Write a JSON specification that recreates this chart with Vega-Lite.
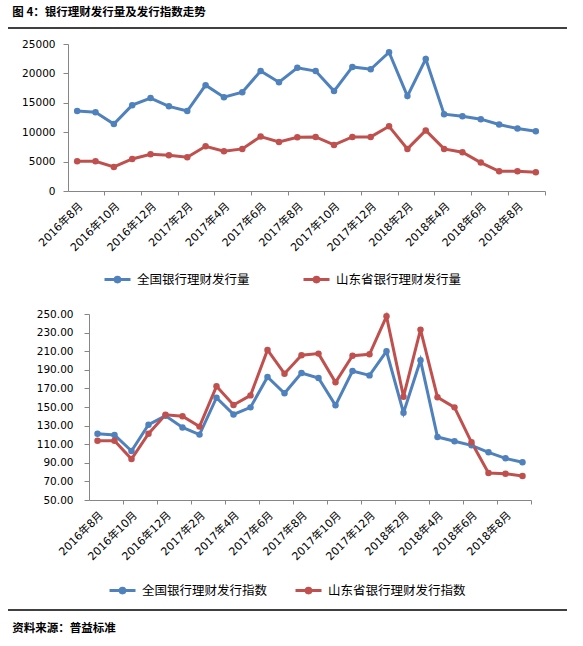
{
  "$schema": "https://vega.github.io/schema/vega-lite/v6.json",
  "padding": {"left": 7, "top": 6, "right": 0, "bottom": 0},
  "background": "white",
  "config": {
    "view": {"stroke": null},
    "axis": {
      "domainColor": "#868686",
      "tickColor": "#868686",
      "labelColor": "black",
      "labelFont": "DejaVu Sans, Noto Sans CJK SC",
      "grid": false,
      "title": null
    }
  },
  "datasets": {
    "volume": [
      {"month": "2016年8月", "series": "全国银行理财发行量", "value": 13600},
      {"month": "2016年9月", "series": "全国银行理财发行量", "value": 13400},
      {"month": "2016年10月", "series": "全国银行理财发行量", "value": 11400},
      {"month": "2016年11月", "series": "全国银行理财发行量", "value": 14600},
      {"month": "2016年12月", "series": "全国银行理财发行量", "value": 15800},
      {"month": "2017年1月", "series": "全国银行理财发行量", "value": 14400},
      {"month": "2017年2月", "series": "全国银行理财发行量", "value": 13600},
      {"month": "2017年3月", "series": "全国银行理财发行量", "value": 18000},
      {"month": "2017年4月", "series": "全国银行理财发行量", "value": 15950},
      {"month": "2017年5月", "series": "全国银行理财发行量", "value": 16800},
      {"month": "2017年6月", "series": "全国银行理财发行量", "value": 20400},
      {"month": "2017年7月", "series": "全国银行理财发行量", "value": 18500},
      {"month": "2017年8月", "series": "全国银行理财发行量", "value": 20950},
      {"month": "2017年9月", "series": "全国银行理财发行量", "value": 20400},
      {"month": "2017年10月", "series": "全国银行理财发行量", "value": 17000},
      {"month": "2017年11月", "series": "全国银行理财发行量", "value": 21100},
      {"month": "2017年12月", "series": "全国银行理财发行量", "value": 20700},
      {"month": "2018年1月", "series": "全国银行理财发行量", "value": 23600},
      {"month": "2018年2月", "series": "全国银行理财发行量", "value": 16140},
      {"month": "2018年3月", "series": "全国银行理财发行量", "value": 22450},
      {"month": "2018年4月", "series": "全国银行理财发行量", "value": 13070},
      {"month": "2018年5月", "series": "全国银行理财发行量", "value": 12730},
      {"month": "2018年6月", "series": "全国银行理财发行量", "value": 12220},
      {"month": "2018年7月", "series": "全国银行理财发行量", "value": 11300},
      {"month": "2018年8月", "series": "全国银行理财发行量", "value": 10620},
      {"month": "2018年9月", "series": "全国银行理财发行量", "value": 10170},
      {"month": "2016年8月", "series": "山东省银行理财发行量", "value": 5050},
      {"month": "2016年9月", "series": "山东省银行理财发行量", "value": 5050},
      {"month": "2016年10月", "series": "山东省银行理财发行量", "value": 4090},
      {"month": "2016年11月", "series": "山东省银行理财发行量", "value": 5450},
      {"month": "2016年12月", "series": "山东省银行理财发行量", "value": 6250},
      {"month": "2017年1月", "series": "山东省银行理财发行量", "value": 6080},
      {"month": "2017年2月", "series": "山东省银行理财发行量", "value": 5740},
      {"month": "2017年3月", "series": "山东省银行理财发行量", "value": 7610},
      {"month": "2017年4月", "series": "山东省银行理财发行量", "value": 6760},
      {"month": "2017年5月", "series": "山东省银行理财发行量", "value": 7160},
      {"month": "2017年6月", "series": "山东省银行理财发行量", "value": 9260},
      {"month": "2017年7月", "series": "山东省银行理财发行量", "value": 8350},
      {"month": "2017年8月", "series": "山东省银行理财发行量", "value": 9150},
      {"month": "2017年9月", "series": "山东省银行理财发行量", "value": 9200},
      {"month": "2017年10月", "series": "山东省银行理财发行量", "value": 7840},
      {"month": "2017年11月", "series": "山东省银行理财发行量", "value": 9200},
      {"month": "2017年12月", "series": "山东省银行理财发行量", "value": 9200},
      {"month": "2018年1月", "series": "山东省银行理财发行量", "value": 11000},
      {"month": "2018年2月", "series": "山东省银行理财发行量", "value": 7160},
      {"month": "2018年3月", "series": "山东省银行理财发行量", "value": 10300},
      {"month": "2018年4月", "series": "山东省银行理财发行量", "value": 7160},
      {"month": "2018年5月", "series": "山东省银行理财发行量", "value": 6590},
      {"month": "2018年6月", "series": "山东省银行理财发行量", "value": 4830},
      {"month": "2018年7月", "series": "山东省银行理财发行量", "value": 3350},
      {"month": "2018年8月", "series": "山东省银行理财发行量", "value": 3350},
      {"month": "2018年9月", "series": "山东省银行理财发行量", "value": 3190}
    ],
    "index": [
      {"month": "2016年8月", "series": "全国银行理财发行指数", "value": 121.3},
      {"month": "2016年9月", "series": "全国银行理财发行指数", "value": 119.9},
      {"month": "2016年10月", "series": "全国银行理财发行指数", "value": 102.7},
      {"month": "2016年11月", "series": "全国银行理财发行指数", "value": 131.0},
      {"month": "2016年12月", "series": "全国银行理财发行指数", "value": 140.5},
      {"month": "2017年1月", "series": "全国银行理财发行指数", "value": 128.0},
      {"month": "2017年2月", "series": "全国银行理财发行指数", "value": 120.3},
      {"month": "2017年3月", "series": "全国银行理财发行指数", "value": 160.0},
      {"month": "2017年4月", "series": "全国银行理财发行指数", "value": 142.0},
      {"month": "2017年5月", "series": "全国银行理财发行指数", "value": 149.6},
      {"month": "2017年6月", "series": "全国银行理财发行指数", "value": 182.3},
      {"month": "2017年7月", "series": "全国银行理财发行指数", "value": 164.7},
      {"month": "2017年8月", "series": "全国银行理财发行指数", "value": 186.6},
      {"month": "2017年9月", "series": "全国银行理财发行指数", "value": 181.2},
      {"month": "2017年10月", "series": "全国银行理财发行指数", "value": 151.8},
      {"month": "2017年11月", "series": "全国银行理财发行指数", "value": 188.7},
      {"month": "2017年12月", "series": "全国银行理财发行指数", "value": 184.0},
      {"month": "2018年1月", "series": "全国银行理财发行指数", "value": 209.9},
      {"month": "2018年2月", "series": "全国银行理财发行指数", "value": 143.9},
      {"month": "2018年3月", "series": "全国银行理财发行指数", "value": 200.2},
      {"month": "2018年4月", "series": "全国银行理财发行指数", "value": 117.7},
      {"month": "2018年5月", "series": "全国银行理财发行指数", "value": 113.1},
      {"month": "2018年6月", "series": "全国银行理财发行指数", "value": 108.8},
      {"month": "2018年7月", "series": "全国银行理财发行指数", "value": 101.3},
      {"month": "2018年8月", "series": "全国银行理财发行指数", "value": 94.8},
      {"month": "2018年9月", "series": "全国银行理财发行指数", "value": 90.5},
      {"month": "2016年8月", "series": "山东省银行理财发行指数", "value": 113.8},
      {"month": "2016年9月", "series": "山东省银行理财发行指数", "value": 113.8},
      {"month": "2016年10月", "series": "山东省银行理财发行指数", "value": 94.1},
      {"month": "2016年11月", "series": "山东省银行理财发行指数", "value": 121.3},
      {"month": "2016年12月", "series": "山东省银行理财发行指数", "value": 141.7},
      {"month": "2017年1月", "series": "山东省银行理财发行指数", "value": 140.0},
      {"month": "2017年2月", "series": "山东省银行理财发行指数", "value": 128.9},
      {"month": "2017年3月", "series": "山东省银行理财发行指数", "value": 172.2},
      {"month": "2017年4月", "series": "山东省银行理财发行指数", "value": 152.2},
      {"month": "2017年5月", "series": "山东省银行理财发行指数", "value": 162.5},
      {"month": "2017年6月", "series": "山东省银行理财发行指数", "value": 211.3},
      {"month": "2017年7月", "series": "山东省银行理财发行指数", "value": 185.8},
      {"month": "2017年8月", "series": "山东省银行理财发行指数", "value": 205.6},
      {"month": "2017年9月", "series": "山东省银行理财发行指数", "value": 207.4},
      {"month": "2017年10月", "series": "山东省银行理财发行指数", "value": 176.5},
      {"month": "2017年11月", "series": "山东省银行理财发行指数", "value": 205.2},
      {"month": "2017年12月", "series": "山东省银行理财发行指数", "value": 206.6},
      {"month": "2018年1月", "series": "山东省银行理财发行指数", "value": 247.5},
      {"month": "2018年2月", "series": "山东省银行理财发行指数", "value": 161.1},
      {"month": "2018年3月", "series": "山东省银行理财发行指数", "value": 233.2},
      {"month": "2018年4月", "series": "山东省银行理财发行指数", "value": 160.4},
      {"month": "2018年5月", "series": "山东省银行理财发行指数", "value": 149.6},
      {"month": "2018年6月", "series": "山东省银行理财发行指数", "value": 112.0},
      {"month": "2018年7月", "series": "山东省银行理财发行指数", "value": 79.0},
      {"month": "2018年8月", "series": "山东省银行理财发行指数", "value": 78.3},
      {"month": "2018年9月", "series": "山东省银行理财发行指数", "value": 75.8}
    ]
  },
  "spacing": 0,
  "resolve": {
    "scale": {"x": "independent", "y": "independent", "color": "independent"},
    "legend": {"color": "independent"}
  },
  "vconcat": [
    {
      "width": 559,
      "height": 11,
      "data": {"values": [{}]},
      "mark": {"type": "rule", "color": "black", "strokeWidth": 1.3},
      "encoding": {"y": {"datum": 1, "type": "quantitative", "scale": {"domain": [0, 1]}, "axis": null}},
      "title": {"text": "图 4：银行理财发行量及发行指数走势", "anchor": "start", "dx": 5, "offset": 9, "font": "Noto Sans CJK SC", "fontSize": 11.5, "fontWeight": "bold", "color": "black"}
    },
    {
      "spacing": 0,
      "resolve": {"scale": {"color": "independent"}, "legend": {"color": "independent"}},
      "hconcat": [
        {"width": 13, "height": 265, "data": {"values": []}, "mark": "point"},
        {
          "width": 477,
          "height": 147,
          "data": {"name": "volume"},
          "resolve": {"axis": {"x": "independent"}},
          "layer": [
            {
              "mark": {"type": "line", "strokeWidth": 3},
              "encoding": {
                "x": {"field": "month", "type": "ordinal", "sort": null, "bandPosition": 0.5,
                  "scale": {"type": "band", "paddingInner": 0, "paddingOuter": 0},
                  "axis": {"orient": "bottom", "values": ["2016年8月","2016年10月","2016年12月","2017年2月","2017年4月","2017年6月","2017年8月","2017年10月","2017年12月","2018年2月","2018年4月","2018年6月","2018年8月"],
                    "labelAngle": -45, "ticks": false, "labelPadding": 9, "labelFontSize": 11, "labelOverlap": false, "labelBound": false}},
                "y": {"field": "value", "type": "quantitative", "scale": {"domain": [0, 25000], "nice": false},
                  "axis": {"values": [0, 5000, 10000, 15000, 20000, 25000], "format": "d", "tickSize": 5, "labelPadding": 8, "labelFontSize": 10.5, "labelFont": "DejaVu Sans", "labelOverlap": false, "labelBound": false, "labelFlush": false}},
                "color": {"field": "series", "type": "nominal", "sort": null,
                  "scale": {"domain": ["全国银行理财发行量", "山东省银行理财发行量"], "range": ["#4F81BD", "#C0504D"]},
                  "legend": {"orient": "none", "legendX": 35, "legendY": 221, "direction": "horizontal", "title": null,
                    "symbolType": "M-1,0H1M0.18,0A0.18,0.18,0,1,1,-0.18,0A0.18,0.18,0,1,1,0.18,0",
                    "symbolSize": 676, "symbolStrokeWidth": 3, "symbolOpacity": 1,
                    "labelFont": "Noto Sans CJK SC", "labelFontSize": 12.5, "labelColor": "black", "labelOffset": 5,
                    "columnPadding": 47, "labelLimit": 400, "padding": 0,
                    "encode": {"symbols": {"update": {
                      "fill": {"signal": "indexOf(datum.value, '全国') >= 0 ? '#4F81BD' : '#C0504D'"},
                      "stroke": {"signal": "indexOf(datum.value, '全国') >= 0 ? '#4F81BD' : '#C0504D'"}}}}}}
              }
            },
            {
              "mark": {"type": "point", "filled": true, "size": 42, "opacity": 1},
              "encoding": {
                "x": {"field": "month", "type": "ordinal", "sort": null, "bandPosition": 0.5,
                  "scale": {"type": "band", "paddingInner": 0, "paddingOuter": 0},
                  "axis": {"orient": "bottom", "values": ["2016年9月","2016年11月","2017年1月","2017年3月","2017年5月","2017年7月","2017年9月","2017年11月","2018年1月","2018年3月","2018年5月","2018年7月","2018年9月"],
                    "bandPosition": 1, "labels": false, "domain": false, "tickSize": 4}},
                "y": {"field": "value", "type": "quantitative",
                  "axis": {"values": [0, 5000, 10000, 15000, 20000, 25000], "format": "d", "tickSize": 5, "labelPadding": 8, "labelFontSize": 10.5, "labelFont": "DejaVu Sans", "labelOverlap": false, "labelBound": false, "labelFlush": false}},
                "color": {"field": "series", "type": "nominal", "sort": null}
              }
            }
          ]
        }
      ]
    },
    {
      "spacing": 0,
      "resolve": {"scale": {"color": "independent"}, "legend": {"color": "independent"}},
      "hconcat": [
        {"width": 28, "height": 295, "data": {"values": []}, "mark": "point"},
        {
          "width": 442,
          "height": 186,
          "data": {"name": "index"},
          "resolve": {"axis": {"x": "independent"}},
          "layer": [
            {
              "mark": {"type": "line", "strokeWidth": 3},
              "encoding": {
                "x": {"field": "month", "type": "ordinal", "sort": null, "bandPosition": 0.5,
                  "scale": {"type": "band", "paddingInner": 0, "paddingOuter": 0},
                  "axis": {"orient": "bottom", "values": ["2016年8月","2016年10月","2016年12月","2017年2月","2017年4月","2017年6月","2017年8月","2017年10月","2017年12月","2018年2月","2018年4月","2018年6月","2018年8月"],
                    "labelAngle": -45, "ticks": false, "labelPadding": 9, "labelFontSize": 11, "labelOverlap": false, "labelBound": false}},
                "y": {"field": "value", "type": "quantitative", "scale": {"domain": [50, 250], "nice": false},
                  "axis": {"values": [50, 70, 90, 110, 130, 150, 170, 190, 210, 230, 250], "format": ".2f", "tickSize": 5, "labelPadding": 11, "labelFontSize": 10.5, "labelFont": "DejaVu Sans", "labelOverlap": false, "labelBound": false, "labelFlush": false}},
                "color": {"field": "series", "type": "nominal", "sort": null,
                  "scale": {"domain": ["全国银行理财发行指数", "山东省银行理财发行指数"], "range": ["#4F81BD", "#C0504D"]},
                  "legend": {"orient": "none", "legendX": 19, "legendY": 262, "direction": "horizontal", "title": null,
                    "symbolType": "M-1,0H1M0.18,0A0.18,0.18,0,1,1,-0.18,0A0.18,0.18,0,1,1,0.18,0",
                    "symbolSize": 676, "symbolStrokeWidth": 3, "symbolOpacity": 1,
                    "labelFont": "Noto Sans CJK SC", "labelFontSize": 12.5, "labelColor": "black", "labelOffset": 5,
                    "columnPadding": 21, "labelLimit": 400, "padding": 0,
                    "encode": {"symbols": {"update": {
                      "fill": {"signal": "indexOf(datum.value, '全国') >= 0 ? '#4F81BD' : '#C0504D'"},
                      "stroke": {"signal": "indexOf(datum.value, '全国') >= 0 ? '#4F81BD' : '#C0504D'"}}}}}}
              }
            },
            {
              "mark": {"type": "point", "filled": true, "size": 42, "opacity": 1},
              "encoding": {
                "x": {"field": "month", "type": "ordinal", "sort": null, "bandPosition": 0.5,
                  "scale": {"type": "band", "paddingInner": 0, "paddingOuter": 0},
                  "axis": {"orient": "bottom", "values": ["2016年9月","2016年11月","2017年1月","2017年3月","2017年5月","2017年7月","2017年9月","2017年11月","2018年1月","2018年3月","2018年5月","2018年7月","2018年9月"],
                    "bandPosition": 1, "labels": false, "domain": false, "tickSize": 4}},
                "y": {"field": "value", "type": "quantitative",
                  "axis": {"values": [50, 70, 90, 110, 130, 150, 170, 190, 210, 230, 250], "format": ".2f", "tickSize": 5, "labelPadding": 11, "labelFontSize": 10.5, "labelFont": "DejaVu Sans", "labelOverlap": false, "labelBound": false, "labelFlush": false}},
                "color": {"field": "series", "type": "nominal", "sort": null}
              }
            }
          ]
        }
      ]
    },
    {
      "width": 559,
      "height": 1,
      "data": {"values": [{}]},
      "mark": {"type": "rule", "color": "black", "strokeWidth": 1.3},
      "encoding": {"y": {"datum": 1, "type": "quantitative", "scale": {"domain": [0, 1]}, "axis": null}},
      "title": {"text": "资料来源：普益标准", "orient": "bottom", "anchor": "start", "dx": 5, "offset": 12, "font": "Noto Sans CJK SC", "fontSize": 11.5, "fontWeight": "bold", "color": "black"}
    }
  ]
}
